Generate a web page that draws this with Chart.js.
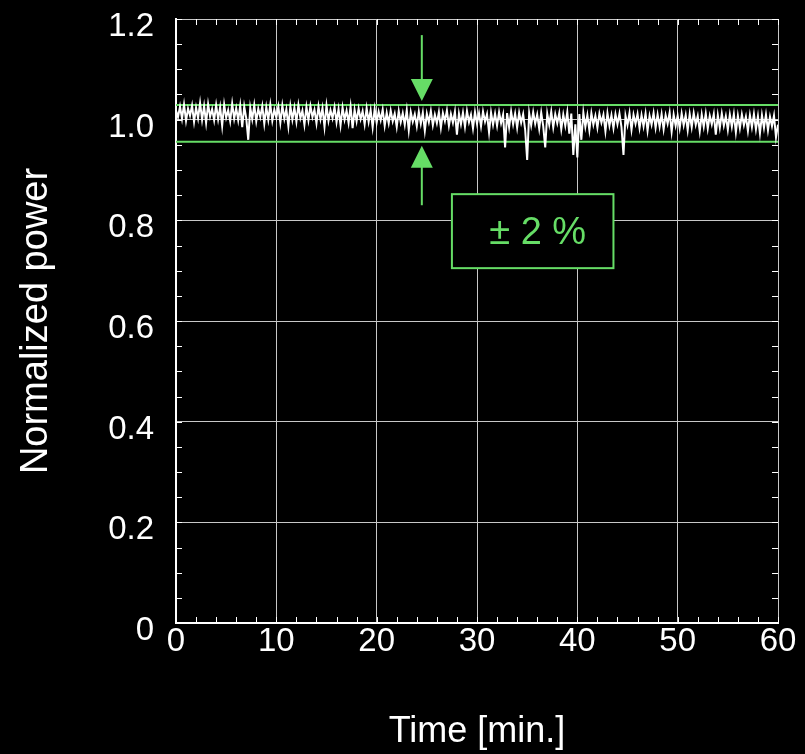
<!DOCTYPE html>
<html>
<head>
<meta charset="utf-8">
<script src="https://cdn.jsdelivr.net/npm/chart.js@4.4.1/dist/chart.umd.min.js"></script>
<style>
  html, body { margin: 0; padding: 0; background: #000; }
  #wrap { width: 805px; height: 754px; }
</style>
</head>
<body>
<div id="wrap"><canvas id="chart" width="805" height="754"></canvas></div>
<script>
// normalized power, sampled every 0.2 min from 0 to 60 min
const sampleStep = 0.2;
const power = [
  1.018, 1.005, 1.026, 1.002, 1.030, 0.998, 1.022, 1.008, 1.028, 0.996,
  1.024, 1.003, 1.033, 1.000, 1.027, 0.994, 1.031, 1.006, 1.021, 0.999,
  1.029, 1.001, 1.025, 0.988, 1.030, 1.004, 1.019, 0.997, 1.032, 1.002,
  1.023, 0.999, 1.028, 0.985, 1.026, 1.003, 0.960, 1.024, 1.001, 1.029,
  0.997, 1.022, 1.005, 1.027, 0.992, 1.025, 1.000, 1.030, 0.998, 1.020,
  1.004, 1.026, 0.994, 1.028, 1.002, 1.021, 0.987, 1.027, 1.000, 1.024,
  0.996, 1.029, 1.003, 1.018, 0.990, 1.025, 0.999, 1.027, 1.005, 1.020,
  0.993, 1.026, 1.001, 1.023, 0.986, 1.028, 0.998, 1.019, 1.003, 1.025,
  0.995, 1.021, 0.989, 1.024, 1.000, 1.018, 0.994, 1.026, 0.983, 1.020,
  0.997, 1.022, 1.001, 1.017, 0.991, 1.023, 0.996, 1.019, 0.985, 1.021,
  0.994, 1.016, 0.999, 1.020, 0.988, 1.014, 0.993, 1.018, 0.997, 1.012,
  0.986, 1.017, 0.995, 1.013, 0.990, 1.019, 0.979, 1.015, 0.996, 1.011,
  0.987, 1.016, 0.992, 1.014, 0.978, 1.012, 0.995, 1.017, 0.989, 1.010,
  0.993, 1.015, 0.984, 1.013, 0.997, 1.018, 0.988, 1.011, 0.994, 1.016,
  0.970, 1.012, 0.991, 1.014, 0.986, 1.017, 0.995, 1.010, 0.983, 1.015,
  0.992, 1.013, 0.987, 1.016, 0.996, 1.011, 0.975, 1.014, 0.990, 1.012,
  0.988, 1.015, 0.993, 1.010, 0.945, 1.013, 0.985, 1.016, 0.991, 1.012,
  0.984, 1.014, 0.994, 1.011, 0.980, 0.920, 1.013, 0.989, 1.015, 0.992,
  1.010, 0.982, 1.014, 0.987, 0.945, 1.012, 0.990, 1.016, 0.985, 1.011,
  0.993, 1.013, 0.981, 1.010, 0.988, 1.015, 0.972, 1.012, 0.930, 0.991,
  0.925, 1.011, 0.960, 1.014, 0.986, 1.009, 0.979, 1.013, 0.990, 1.008,
  0.984, 1.012, 0.994, 1.010, 0.977, 1.013, 0.988, 1.009, 0.983, 1.011,
  0.991, 1.012, 0.985, 0.930, 1.008, 0.989, 1.013, 0.980, 1.010, 0.992,
  1.011, 0.983, 1.009, 0.987, 1.012, 0.978, 1.008, 0.990, 1.013, 0.984,
  1.010, 0.986, 1.011, 0.981, 1.009, 0.992, 1.014, 0.976, 1.010, 0.988,
  1.008, 0.983, 1.012, 0.989, 1.009, 0.979, 1.011, 0.985, 1.013, 0.990,
  1.007, 0.977, 1.010, 0.986, 1.012, 0.982, 1.008, 0.991, 1.011, 0.970,
  1.009, 0.984, 1.012, 0.988, 1.007, 0.980, 1.010, 0.986, 1.011, 0.975,
  1.008, 0.983, 1.010, 0.989, 1.006, 0.978, 1.009, 0.985, 1.011, 0.981,
  1.007, 0.973, 1.009, 0.984, 1.010, 0.979, 1.006, 0.987, 1.008, 0.965,
  0.990
];
const bandLimits = [1.029, 0.956];   // upper / lower guide lines
const timeRange = [0, 60];
const bandLabel = '\u00b1 2 %';

const green = '#66dd66';
const fontFamily = '"Liberation Sans", Arial, sans-serif';

const powerPoints = power.map((v, i) => ({ x: +(i * sampleStep).toFixed(1), y: v }));
const bandSets = bandLimits.map(v => ({
  data: timeRange.map(t => ({ x: t, y: v })),
  borderColor: green,
  borderWidth: 2,
  pointRadius: 0,
  order: 1
}));

// arrows + label box, placed in data coordinates
const annot = {
  arrowX: 24.5,
  topArrow: [1.168, 1.037],
  bottomArrow: [0.830, 0.948],
  box: { x0: 27.5, x1: 43.6, y0: 0.852, y1: 0.705 }
};

const extrasPlugin = {
  id: 'extras',
  afterDraw(chart) {
    const { ctx, scales: { x, y }, chartArea: a } = chart;
    ctx.save();
    // y tick labels (sit a few px below their grid line in the original)
    ctx.fillStyle = '#ffffff';
    ctx.font = '33px ' + fontFamily;
    ctx.textAlign = 'right';
    ctx.textBaseline = 'middle';
    y.ticks.forEach(t => {
      const lbl = t.value === 0 ? '0' : t.value.toFixed(1);
      ctx.fillText(lbl, a.left - 22, y.getPixelForValue(t.value) + 8);
    });

    // minor ticks, inward on all four sides
    ctx.strokeStyle = '#ffffff';
    ctx.lineWidth = 1;
    ctx.beginPath();
    for (let t = 0; t <= 60; t += 2) {
      const px = Math.round(x.getPixelForValue(t)) + 0.5;
      ctx.moveTo(px, a.bottom); ctx.lineTo(px, a.bottom - 6);
      ctx.moveTo(px, a.top); ctx.lineTo(px, a.top + 6);
    }
    for (let k = 0; k <= 24; k++) {
      const py = Math.round(y.getPixelForValue(k * 0.05)) + 0.5;
      ctx.moveTo(a.left, py); ctx.lineTo(a.left + 6, py);
      ctx.moveTo(a.right, py); ctx.lineTo(a.right - 6, py);
    }
    ctx.stroke();

    // arrows
    ctx.strokeStyle = green;
    ctx.fillStyle = green;
    ctx.lineWidth = 2;
    const ax = x.getPixelForValue(annot.arrowX);
    const drawArrow = (fromV, toV) => {
      const y0 = y.getPixelForValue(fromV), y1 = y.getPixelForValue(toV);
      const dir = y1 > y0 ? 1 : -1;
      ctx.beginPath();
      ctx.moveTo(ax, y0); ctx.lineTo(ax, y1 - dir * 20);
      ctx.stroke();
      ctx.beginPath();
      ctx.moveTo(ax, y1);
      ctx.lineTo(ax - 11, y1 - dir * 22);
      ctx.lineTo(ax + 11, y1 - dir * 22);
      ctx.closePath();
      ctx.fill();
    };
    drawArrow(annot.topArrow[0], annot.topArrow[1]);
    drawArrow(annot.bottomArrow[0], annot.bottomArrow[1]);

    // label box
    const b = annot.box;
    const bx0 = x.getPixelForValue(b.x0), bx1 = x.getPixelForValue(b.x1);
    const by0 = y.getPixelForValue(b.y0), by1 = y.getPixelForValue(b.y1);
    ctx.fillStyle = '#000';
    ctx.fillRect(bx0, by0, bx1 - bx0, by1 - by0);
    ctx.strokeRect(bx0, by0, bx1 - bx0, by1 - by0);
    ctx.fillStyle = green;
    ctx.font = '38px ' + fontFamily;
    ctx.textAlign = 'center';
    ctx.textBaseline = 'middle';
    ctx.fillText(bandLabel, (bx0 + bx1) / 2 + 5, (by0 + by1) / 2 + 2);
    ctx.restore();
  }
};

const bgPlugin = {
  id: 'bg',
  beforeDraw(chart) {
    const { ctx, width, height } = chart;
    ctx.save();
    ctx.fillStyle = '#000';
    ctx.fillRect(0, 0, width, height);
    ctx.restore();
  }
};

new Chart(document.getElementById('chart'), {
  type: 'line',
  data: {
    datasets: [
      {
        data: powerPoints,
        borderColor: '#ffffff',
        borderWidth: 2,
        pointRadius: 0,
        tension: 0,
        order: 0
      },
      ...bandSets
    ]
  },
  options: {
    responsive: false,
    animation: false,
    layout: { padding: { top: 19, right: 27, left: 0, bottom: 0 } },
    plugins: {
      legend: { display: false },
      tooltip: { enabled: false }
    },
    scales: {
      x: {
        type: 'linear',
        min: 0,
        max: 60,
        ticks: {
          stepSize: 10,
          color: '#ffffff',
          font: { family: fontFamily, size: 33, lineHeight: 1 },
          padding: 2,
          maxRotation: 0
        },
        grid: { color: '#c8c8c8', lineWidth: 1, drawTicks: false },
        border: { color: '#ffffff', width: 2 },
        title: {
          display: true,
          text: 'Time [min.]',
          color: '#ffffff',
          font: { family: fontFamily, size: 36 },
          padding: { top: 0, bottom: 0 }
        },
        afterFit(scale) { scale.height = 131; }
      },
      y: {
        min: 0,
        max: 1.2,
        ticks: { stepSize: 0.2, display: false },
        grid: { color: '#c8c8c8', lineWidth: 1, drawTicks: false },
        border: { color: '#ffffff', width: 2 },
        title: {
          display: true,
          text: 'Normalized power',
          color: '#ffffff',
          font: { family: fontFamily, size: 38 },
          padding: { top: 14, bottom: 0 }
        },
        afterFit(scale) { scale.width = 176; }
      }
    }
  },
  plugins: [bgPlugin, extrasPlugin]
});
</script>
</body>
</html>
